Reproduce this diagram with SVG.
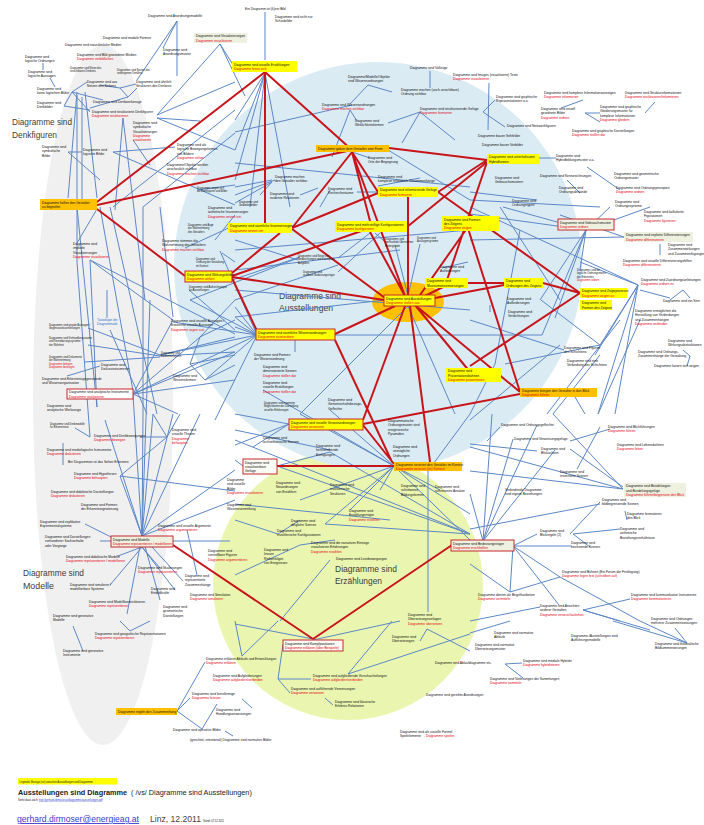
<svg xmlns="http://www.w3.org/2000/svg" width="704" height="825" viewBox="0 0 704 825">
<defs>
<style>
text{font-family:"Liberation Sans",Arial,sans-serif}
.t{font-size:3.3px;fill:#111}
.s{font-size:2.6px;fill:#111}
.r{fill:#e3000f}
.u{fill:#2f6fd0}
.big{font-size:9.5px;fill:#3c3c3c}
.bl path{stroke:#5d87c6;stroke-width:1;fill:none}
.rd path{stroke:#c8141b;stroke-width:2;fill:none}
.y{fill:#ffff00}
.o{fill:#ffc000}
.g{fill:#eef1e0}
.w{fill:#fafaf4}
.rb{stroke:#c8282d;stroke-width:1}
</style>
</defs>
<rect width="704" height="825" fill="#fff"/>
<g id="areas">
<ellipse cx="103" cy="395" rx="70" ry="350" fill="#f0f0f0"/>
<circle cx="348" cy="585" r="135" fill="#eaf6b0"/>
<ellipse cx="378" cy="266" rx="204" ry="204" fill="#daebf3"/>
<ellipse cx="408" cy="302" rx="36" ry="20" fill="#ffc000"/>
</g>
<g id="titles">
<text class="big" x="12" y="125" textLength="60" lengthAdjust="spacingAndGlyphs">Diagramme sind</text>
<text class="big" x="12" y="138" textLength="45" lengthAdjust="spacingAndGlyphs">Denkfiguren</text>
<text class="big" x="279" y="299" textLength="62" lengthAdjust="spacingAndGlyphs">Diagramme sind</text>
<text class="big" x="279" y="311" textLength="54" lengthAdjust="spacingAndGlyphs">Ausstellungen</text>
<text class="big" x="23" y="576" textLength="61" lengthAdjust="spacingAndGlyphs">Diagramme sind</text>
<text class="big" x="23" y="589" textLength="31" lengthAdjust="spacingAndGlyphs">Modelle</text>
<text class="big" x="335" y="572" textLength="62" lengthAdjust="spacingAndGlyphs">Diagramme sind</text>
<text class="big" x="335" y="584" textLength="47" lengthAdjust="spacingAndGlyphs">Erzählungen</text>
</g>
<g id="connectors">
<g class="bl">
<path d="M177 21L137 80M177 21L163 48M177 21L177 76M220 44L235 68M220 44L157 115M220 44L245 96M43 63L43 70M50 78L55 87M72 92L87 82M72 92L103 100M72 92L64 106M64 106L90 110M72 92L90 112M120 88L136 84M120 88L128 97M128 97L137 88M90 108L128 97M77 92L68 198M82 97L82 199M85 92L97 198M77 95L77 262M123 118L115 210M123 118L145 300M157 118L200 121M157 118L235 150M113 152L235 205M113 152L175 147M68 152L100 180M68 152L82 152M133 140L150 165M197 190L235 185M113 207L235 110M143 207L235 133M157 115L235 82M100 85L120 88"/>
<path d="M97 209L77 243M77 207L97 407M100 207L133 391M110 207L157 414M143 207L143 414M160 207L173 317M90 260L97 407M90 260L235 334M90 260L173 320M107 290L107 318M110 330L147 414M88 328L160 355M88 345L160 356M85 362L160 357M160 355L235 337M160 356L235 352M100 366L67 376M133 394L200 337M133 394L235 380M133 394L173 320M133 394L235 352M133 394L178 414M200 337L235 300M200 337L235 320M200 337L190 364M190 364L235 355M205 380L235 365M205 380L190 364M215 240L235 215M222 253L235 262M185 248L235 225M77 262L90 437M105 420L142 536"/>
<path d="M265 12L265 60M265 73L235 120M265 73L235 150M265 73L290 207M265 73L235 180M265 73L250 207M368 85L392 92M368 85L350 104M350 110L332 157M350 110L357 121M388 123L420 112M420 112L402 143M420 112L455 140M235 132L352 105M235 163L470 187M388 150L470 200M370 158L352 152M420 178L378 186M330 190L320 207M275 180L235 195M300 195L318 188M430 71L430 88M235 187L272 180M235 203L272 182M272 182L260 195M378 192L357 192"/>
<path d="M335 335L542 335M257 335L235 307M257 335L235 317M257 335L235 327M257 335L173 322M257 335L133 394M257 335L160 355M257 335L205 380M257 335L190 300M257 335L215 420M257 335L220 251M235 317L385 300M408 296L395 245M408 296L420 244M408 306L300 414M408 306L455 414M338 258L370 233M338 272L380 233M385 242L375 233M442 268L468 262M295 340L295 352M235 250L470 230M235 290L470 310M235 270L400 250M232 280L300 257M235 300L338 265M190 300L298 258M235 240L298 260M189 290L235 330M300 414L394 466M263 390L394 466M330 410L394 466"/>
<path d="M489 83L488 130M483 112L505 127M483 112L495 100M539 158L556 158M587 167L620 190M567 180L580 193M561 108L583 100M585 113L600 113M585 113L600 122M645 113L655 102M470 192L537 200M470 200L600 207"/>
<path d="M586 230L470 214M586 230L503 207M586 230L540 300M586 230L555 318M586 230L580 270M586 230L610 207M586 230L650 207M624 237L470 240M624 237L560 215M660 244L660 255M638 285L470 207M638 285L580 262M638 285L600 345M638 285L595 355M638 285L598 414M638 285L615 414M490 305L490 312M683 350L690 356M690 356L687 366M542 335L585 232M640 290L670 298M670 300L683 290M683 290L690 298M495 364L470 414M560 397L547 414M575 397L585 414M500 207L560 300M520 230L495 364M541 300L600 345M560 345L470 420M600 355L553 414M620 320L560 397M470 320L564 350M505 364L600 345M640 320L598 414"/>
<path d="M289 424L235 414M289 424L235 445M289 424L253 447M243 466L235 460M277 466L330 452M394 466L325 524M394 466L300 500M394 466L470 514M394 466L470 540M428 471L428 612M394 466L350 510M394 466L380 490M394 466L440 490M325 524L470 534M330 560L280 621M235 504L390 520M278 534L235 520M278 534L300 520M300 545L335 540M235 575L300 545M235 430L330 450M277 466L470 534M330 452L470 534M235 440L470 534M470 414L428 471"/>
<path d="M483 541L492 414M483 541L470 494M483 541L513 439M483 541L537 425M483 541L555 450M513 546L537 534M513 546L572 546M513 546L560 577M513 546L510 592M513 546L559 605M470 564L510 592M510 592L560 577M540 607L470 621M583 610L630 599M583 610L620 621M570 441L610 429M577 469L600 427M570 449L623 487M470 471L623 489M470 447L623 489M553 414L623 489M470 529L600 504M600 502L570 534M625 511L627 520M573 534L620 529M573 534L590 547M487 441L500 427M470 444L537 451M583 610L650 630M560 577L640 621"/>
<path d="M313 639L235 624M242 656L235 621M242 656L278 621M283 644L278 679M278 679L311 679M278 679L290 693M325 698L333 705M348 674L392 621M348 674L470 634M313 640L400 621M427 629L420 641M427 629L470 651M242 699L252 708M470 633L510 621M613 621L687 643M640 621L687 643M675 628L687 643M505 664L523 678M505 664L522 663"/>
<path d="M142 536L120 476M142 536L153 414M142 536L173 414M142 536L143 414M142 536L200 414M142 536L235 470M142 536L235 500M142 536L127 614M142 536L160 600M142 536L183 581M100 541L111 541M85 524L111 537M173 541L230 541M187 530L197 575M133 395L142 536M150 300L142 536M120 476L167 437M120 476L235 491M167 437L153 414M167 437L180 414M90 437L75 428M140 437L167 437M63 443L63 465M130 631L120 621M130 631L150 621M73 626L83 651M142 547L118 556M142 547L160 568M142 547L110 585M142 547L175 590"/>
<path d="M177 711L205 662M177 711L190 698M177 711L202 729M202 729L217 704M225 731L233 736"/>
</g>
<g class="rd">
<path d="M97 202L265 72M97 205L352 150M97 209L185 276M265 72L352 150M265 72L265 224M352 152L292 228M352 152L378 192M352 152L405 296M389 148L487 160M378 193L292 228M408 197L408 295M487 160L438 192M487 162L447 280M487 162L407 227M438 192L580 293M370 232L405 296M232 276L370 228M232 277L384 300M232 273L280 233M425 296L447 285M420 295L470 224M395 306L335 334M405 306L363 420M410 306L430 462M415 305L470 372M415 305L520 392M468 283L504 283M543 283L580 293M580 293L470 366M466 222L520 392M520 394L363 424M363 425L394 464M277 466L394 466M173 545L313 639M452 545L313 639M335 340L392 462M232 278L257 331M352 152L370 221M292 229L385 298M435 298L504 285"/>
</g>
</g>
<g id="n_A"><rect class="y" x="232" y="61" width="65" height="11"/><text class="t" x="234" y="65.5">Diagramme sind visuelle Erzählungen<tspan class="r" x="234" dy="4.3">Diagramme lesen sich</tspan></text></g>
<g id="n_B"><rect class="o" x="316" y="145" width="73" height="7"/><text class="t" x="318" y="149.8">Diagramme geben dem Gestalter eine Form</text></g>
<g id="n_C"><rect class="y" x="378" y="187" width="60" height="10"/><text class="t" x="380" y="191.3">Diagramme sind informierende Gefüge<tspan class="r" x="380" dy="4.3">Diagramme formieren</tspan></text></g>
<g id="n_D"><rect class="y" x="487" y="154" width="52" height="10"/><text class="t" x="489" y="158.3">Diagramme sind unterhaltsame<tspan x="489" dy="4.3">Hybridformen</tspan></text></g>
<g id="n_E"><rect class="y" x="228" y="223" width="64" height="10"/><text class="t" x="230" y="227.3">Diagramme sind räumliche Inszenierungen<tspan class="r" x="230" dy="4.3">Diagramme setzen um</tspan></text></g>
<g id="n_F"><rect class="y" x="335" y="221" width="72" height="11"/><text class="t" x="337" y="225.5">Diagramme sind mehrstellige Konfigurationen<tspan class="r" x="337" dy="4.3">Diagramme konfigurieren</tspan></text></g>
<g id="n_G"><rect class="y" x="442" y="216" width="57" height="15"/><text class="t" x="444" y="220.5">Diagramme sind Formen<tspan x="444" dy="4.3">des Zeigens</tspan><tspan class="r" x="444" dy="4.3">Diagramme zeigen</tspan></text></g>
<g id="n_H"><rect class="y" x="425" y="278" width="43" height="10"/><text class="t" x="427" y="282.3">Diagramme sind<tspan x="427" dy="4.3">Museumsinszenierungen</tspan></text></g>
<g id="n_I"><rect class="y rb" x="384" y="295" width="51" height="11"/><text class="t" x="386" y="299.5">Diagramme sind Ausstellungen<tspan class="r" x="386" dy="4.3">Diagramme stellen aus</tspan></text></g>
<g id="n_J"><rect class="y rb" x="256" y="329" width="79" height="11"/><text class="t" x="258" y="333.5">Diagramme sind räumliche Wissensordnungen<tspan class="r" x="258" dy="4.3">Diagramme raumordnen</tspan></text></g>
<g id="n_K"><rect class="y" x="446" y="368" width="55" height="14"/><text class="t" x="448" y="372.3">Diagramme sind<tspan x="448" dy="4.3">Präsentationsbühnen</tspan><tspan class="r" x="448" dy="4.3">Diagramme präsentieren</tspan></text></g>
<g id="n_L"><rect class="y" x="504" y="278" width="39" height="10"/><text class="t" x="506" y="282.3">Diagramme sind<tspan x="506" dy="4.3">Ordnungen des Zeigens</tspan></text></g>
<g id="n_M"><rect class="y" x="580" y="288" width="47" height="10"/><text class="t" x="582" y="292.3">Diagramme sind Zeigeprozesse<tspan class="r" x="582" dy="4.3">Diagramme zeigen an</tspan></text></g>
<g id="n_M2"><rect class="y" x="580" y="300" width="32" height="10"/><text class="t" x="582" y="304.3">Diagramme sind<tspan x="582" dy="4.3">Formen des Zeigens</tspan></text></g>
<g id="n_N"><rect class="o" x="520" y="388" width="77" height="9"/><text class="t" x="522" y="392">Diagramme bringen den Gestalter in den Blick<tspan class="r" x="522" dy="4">Diagramme führen</tspan></text></g>
<g id="n_O"><rect class="y rb" x="289" y="419" width="74" height="11"/><text class="t" x="291" y="423.5">Diagramme sind visuelle Verweisordnungen<tspan class="r" x="291" dy="4.3">Diagramme verweisen</tspan></text></g>
<g id="n_P"><rect class="o" x="394" y="462" width="68" height="9"/><text class="t" x="396" y="466">Diagramme verorten den Gestalter im Kontext<tspan class="r" x="396" dy="4">Diagramme verorten (im) Kontext</tspan></text></g>
<g id="n_Q"><rect class="o" x="40" y="199" width="57" height="11"/><text class="t" x="42" y="203.5">Diagramme helfen den Gestalter<tspan x="42" dy="4.3">zu begreifen</tspan></text></g>
<g id="n_R"><rect class="y rb" x="185" y="271" width="47" height="11"/><text class="t" x="187" y="275.5">Diagramme sind Wirkungsfelder<tspan class="r" x="187" dy="4.3">Diagramme wirken</tspan></text></g>
<g id="n_S"><rect class="w rb" x="243" y="459" width="34" height="15"/><text class="t" x="245" y="463.5">Diagramme sind<tspan x="245" dy="4.3">visualisierbare</tspan><tspan x="245" dy="4.3">Gefüge</tspan></text></g>
<g id="n_T"><rect class="g rb" x="111" y="536" width="62" height="11"/><text class="t" x="113" y="540.5">Diagramme sind Modelle<tspan class="r" x="113" dy="4.3">Diagramme repräsentieren / modellieren</tspan></text></g>
<g id="n_U"><rect class="w rb" x="283" y="640" width="60" height="11"/><text class="t" x="285" y="644.5">Diagramme sind Kampfpositionen<tspan class="r" x="285" dy="4.3">Diagramme erklären (über Beispiele)</tspan></text></g>
<g id="n_V"><rect class="g rb" x="451" y="540" width="63" height="11"/><text class="t" x="453" y="544.5">Diagramme sind Bedeutungsträger<tspan class="r" x="453" dy="4.3">Diagramme erschließen</tspan></text></g>
<g id="n_W"><rect class="g rb" x="558" y="219" width="56" height="11"/><text class="t" x="560" y="223.5">Diagramme sind Gebrauchsmuster<tspan class="r" x="560" dy="4.3">Diagramme ordnen</tspan></text></g>
<g id="n_X"><rect class="g" x="624" y="232" width="69" height="10"/><text class="t" x="626" y="236.3">Diagramme sind explizite Differenzierungen<tspan class="r" x="626" dy="4.3">Diagramme differenzieren</tspan></text></g>
<g id="n_Y"><rect class="g" x="624" y="483" width="62" height="14"/><text class="t" x="626" y="487.3">Diagramme sind Bündelungen<tspan x="626" dy="4.3">und Bündelungsgefüge</tspan><tspan class="r" x="626" dy="4.3">Diagramme führen/begrenzen den Blick</tspan></text></g>
<g id="n_Z"><rect class="g" x="194" y="33" width="53" height="10"/><text class="t" x="196" y="37.3">Diagramme sind Visualisierungen<tspan class="r" x="196" dy="4.3">Diagramme visualisieren</tspan></text></g>
<g id="n_AA"><rect fill="#fff" class="rb" x="67" y="389" width="66" height="10"/><text class="t" x="69" y="393.3">Diagramme sind analytische Instrumente<tspan class="r" x="69" dy="4.3">Diagramme analysieren</tspan></text></g>
<g id="n_AB"><rect class="o" x="116" y="708" width="61" height="7"/><text class="t" x="118" y="712.5">Diagramme regeln den Zusammenhang</text></g>
<g id="k1"><text class="t" x="148" y="17">Diagramme sind Anordnungsmodelle</text></g>
<g id="k2"><text class="t" x="103" y="39">Diagramme sind modale Formen</text></g>
<g id="k3"><text class="t" x="65" y="46">Diagramme sind naturähnliche Medien</text></g>
<g id="k4"><text class="t" x="77" y="56">Diagramme sind Bild gewordene Medien<tspan class="r" x="77" dy="4.3">Diagramme verbildlichen</tspan></text></g>
<g id="k5"><text class="t" x="163" y="51">Diagramme sind<tspan x="163" dy="4.3">Anordnungsmuster</tspan></text></g>
<g id="k6"><text class="t" x="25" y="58">Diagramme sind<tspan x="25" dy="4.3">logische Ordnungen</tspan></text></g>
<g id="k7"><text class="t" x="28" y="73">Diagramme sind<tspan x="28" dy="4.3">logische Aussagen</tspan></text></g>
<g id="k8"><text class="s" x="70" y="69">Diagramme sind Netze des<tspan x="70" dy="3.4">unsichtbaren Denkens</tspan></text></g>
<g id="k9"><text class="s" x="117" y="71">Diagramme sind Spuren des<tspan x="117" dy="3.4">verborgenen Denkens</tspan></text></g>
<g id="k10"><text class="t" x="87" y="83">Diagramme sind aus<tspan x="87" dy="4.3">Netzen des Sehens</tspan></text></g>
<g id="k11"><text class="t" x="136" y="83">Diagramme sind ähnlich<tspan x="136" dy="4.3">Strukturen des Denkens</tspan></text></g>
<g id="k12"><text class="t" x="37" y="90">Diagramme sind<tspan x="37" dy="4.3">keine logischen Bilder</tspan></text></g>
<g id="k13"><text class="t" x="37" y="104">Diagramme sind<tspan x="37" dy="4.3">Denkbilder</tspan></text></g>
<g id="k14"><text class="t" x="93" y="103">Diagramme sind Denkwerkzeuge</text></g>
<g id="k15"><text class="t" x="92" y="113">Diagramme sind strukturierte Denkfiguren<tspan class="r" x="92" dy="4.3">Diagramme strukturieren</tspan></text></g>
<g id="k16"><text class="t" x="133" y="124">Diagramme sind<tspan x="133" dy="4.3">symbolische</tspan><tspan x="133" dy="4.3">Visualisierungen</tspan><tspan class="r" x="133" dy="4.3">Diagramme</tspan><tspan class="r" x="133" dy="4.3">visualisieren</tspan></text></g>
<g id="k17"><text class="t" x="42" y="148">Diagramme sind<tspan x="42" dy="4.3">symbolische</tspan><tspan x="42" dy="4.3">Bilder</tspan></text></g>
<g id="k18"><text class="t" x="83" y="151">Diagramme sind<tspan x="83" dy="4.3">logische Bilder</tspan></text></g>
<g id="k19"><text class="t" x="177" y="146">Diagramme sind als<tspan x="177" dy="4.3">logische Bewegungsformen</tspan><tspan x="177" dy="4.3">von Bildern</tspan><tspan class="r" x="177" dy="4.3">Diagramme sehen</tspan></text></g>
<g id="k20"><text class="t" x="167" y="166">Diagramme/Objekte werden<tspan x="167" dy="4.3">anschaulich sichtbar</tspan><tspan class="r" x="167" dy="4.3">Diagramme machen sichtbar</tspan></text></g>
<g id="k21"><text class="s" x="197" y="189">Diagramme zeigen sich<tspan x="197" dy="3.4">als Denkfiguren und Bilder</tspan></text></g>
<g id="k183"><text class="t" x="208" y="209">Diagramme sind<tspan x="208" dy="4.3">ästhetische Inszenierungen</tspan><tspan class="r" x="208" dy="4.3">Diagramme setzen ein</tspan></text></g>
<g id="k22"><text class="t" x="245" y="10">Ein Diagramm ist (k)ein Bild</text></g>
<g id="k23"><text class="t" x="275" y="18">Diagramme sind nicht nur<tspan x="275" dy="4.3">Schaubilder</tspan></text></g>
<g id="k24"><text class="t" x="348" y="78">Diagramme/Modelle/Objekte<tspan x="348" dy="4.3">sind Wissensordnungen</tspan></text></g>
<g id="k25"><text class="t" x="410" y="69">Diagramme sind Vollzüge</text></g>
<g id="k26"><text class="t" x="401" y="91">Diagramme machen (auch unsichtbare)<tspan x="401" dy="4.3">Ordnung sichtbar</tspan></text></g>
<g id="k27"><text class="t" x="322" y="106">Diagramme sind Wissensordnungen<tspan class="r" x="322" dy="4.3">Diagramme machen sichtbar</tspan></text></g>
<g id="k28"><text class="t" x="355" y="122">Diagramme sind<tspan x="355" dy="4.3">Wirklichkeitsformen</tspan></text></g>
<g id="k29"><text class="t" x="420" y="110">Diagramme sind strukturierende Gefüge<tspan class="r" x="420" dy="4.3">Diagramme formieren</tspan></text></g>
<g id="k30"><text class="t" x="368" y="159">Diagramme sind<tspan x="368" dy="4.3">Orte der Begegnung</tspan></text></g>
<g id="k31"><text class="t" x="378" y="178">Diagramme sind<tspan x="378" dy="4.3">komplexe relationale Zusammenhänge</tspan></text></g>
<g id="k32"><text class="t" x="328" y="190">Diagramme sind<tspan x="328" dy="4.3">Rechercheräume</tspan></text></g>
<g id="k33"><text class="t" x="275" y="178">Diagramme machen<tspan x="275" dy="4.3">den Gestalter sichtbar</tspan></text></g>
<g id="k34"><text class="t" x="270" y="195">Diagramme sind<tspan x="270" dy="4.3">evidente Relationen</tspan></text></g>
<g id="k35"><text class="s" x="239" y="203">Diagramme sind<tspan x="239" dy="3.4">Gedankenbilder</tspan></text></g>
<g id="k36"><text class="t" x="453" y="76">Diagramme sind Images (visualisierte) Texte<tspan class="r" x="453" dy="4.3">Diagramme visualisieren</tspan></text></g>
<g id="k37"><text class="t" x="496" y="98">Diagramme sind graphische<tspan x="496" dy="4.3">Repräsentationen   u.a.</tspan></text></g>
<g id="k38"><text class="t" x="507" y="127">Diagramme sind Netzwerkfiguren</text></g>
<g id="k39"><text class="t" x="478" y="137">Diagramme bauen Sehfelder</text></g>
<g id="k40"><text class="t" x="482" y="146">Diagramme bauen Vorbilder</text></g>
<g id="k41"><text class="t" x="544" y="94">Diagramme sind komplexe Informationsanzeigen<tspan class="r" x="544" dy="4.3">Diagramme informieren</tspan></text></g>
<g id="k42"><text class="t" x="541" y="110">Diagramme sind visuell<tspan x="541" dy="4.3">geordnete Bilder</tspan><tspan class="r" x="541" dy="4.3">Diagramme ordnen</tspan></text></g>
<g id="k43"><text class="t" x="600" y="108">Diagramme sind graphische<tspan x="600" dy="4.3">Gliederungsmuster für</tspan><tspan x="600" dy="4.3">komplexe Informationen</tspan><tspan class="r" x="600" dy="4.3">Diagramme gliedern</tspan></text></g>
<g id="k44"><text class="t" x="625" y="94">Diagramme sind Strukturinformationen<tspan class="r" x="625" dy="4.3">Diagramme strukturieren/informieren</tspan></text></g>
<g id="k45"><text class="t" x="572" y="132">Diagramme sind graphische Darstellungen<tspan class="r" x="572" dy="4.3">Diagramme stellen dar</tspan></text></g>
<g id="k46"><text class="t" x="556" y="157">Diagramme sind<tspan x="556" dy="4.3">Hybridbildungsmuster        u.a.</tspan></text></g>
<g id="k47"><text class="t" x="540" y="177">Diagramme sind Kennzeichnungen</text></g>
<g id="k48"><text class="t" x="495" y="179">Diagramme sind<tspan x="495" dy="4.3">Gebrauchsmustern</tspan></text></g>
<g id="k49"><text class="t" x="614" y="175">Diagramme sind geometrische<tspan x="614" dy="4.3">Ordnungsmuster</tspan></text></g>
<g id="k50"><text class="t" x="559" y="189">Diagramme sind<tspan x="559" dy="4.3">Ordnungsabstände</tspan></text></g>
<g id="k51"><text class="t" x="616" y="189">Diagramme sind Ordnungsprinzipien<tspan class="r" x="616" dy="4.3">Diagramme ordnen</tspan></text></g>
<g id="k52"><text class="t" x="512" y="202">Diagramme sind<tspan x="512" dy="4.3">Ordnungstypen</tspan></text></g>
<g id="k53"><text class="t" x="615" y="203">Diagramme sind<tspan x="615" dy="4.3">Ordnungssysteme</tspan></text></g>
<g id="k55"><text class="t" x="644" y="213">Diagramme sind kalkulierte<tspan x="644" dy="4.3">Figurationen</tspan><tspan class="r" x="644" dy="4.3">Diagramme figurieren</tspan></text></g>
<g id="k58"><text class="t" x="668" y="246">Diagramme sind<tspan x="668" dy="4.3">Zusammenwirkungen</tspan><tspan x="668" dy="4.3">und Zusammenfügungen</tspan></text></g>
<g id="k59"><text class="t" x="623" y="262">Diagramme sind visuelle Differenzierungshilfen<tspan class="r" x="623" dy="4.3">Diagramme differenzieren</tspan></text></g>
<g id="k60"><text class="s" x="577" y="271">Diagramme sind die<tspan x="577" dy="3.4">logische Ordnungsmatrix</tspan><tspan x="577" dy="3.4">der Erkenntnis</tspan><tspan class="r" x="577" dy="3.4">Diagramme ordnen</tspan></text></g>
<g id="k61"><text class="t" x="641" y="281">Diagramme sind Zuordnungsanleitungen<tspan class="r" x="641" dy="4.3">Diagramme ordnen zu</tspan></text></g>
<g id="k62"><text class="t" x="663" y="302">Diagramme sind ein Sinn</text></g>
<g id="k63"><text class="t" x="635" y="312">Diagramme ermöglichen die<tspan x="635" dy="4.3">Herstellung von Verbindungen</tspan><tspan x="635" dy="4.3">und Zusammenhängen</tspan><tspan class="r" x="635" dy="4.3">Diagramme verbinden</tspan></text></g>
<g id="k64"><text class="t" x="507" y="300">Diagramme sind<tspan x="507" dy="4.3">Aufforderungen</tspan></text></g>
<g id="k65"><text class="t" x="508" y="313">Diagramme sind<tspan x="508" dy="4.3">Verdichtungen</tspan></text></g>
<g id="k66"><text class="t" x="564" y="349">Diagramme sind Figuren<tspan x="564" dy="4.3">des Schichtens</tspan></text></g>
<g id="k67"><text class="t" x="567" y="362">Diagramme sind eine<tspan x="567" dy="4.3">Verbindung des Schichtens</tspan></text></g>
<g id="k68"><text class="t" x="668" y="342">Diagramme sind<tspan x="668" dy="4.3">Wirkungsabstraktionen</tspan></text></g>
<g id="k69"><text class="t" x="638" y="353">Diagramme sind Ordnungs-<tspan x="638" dy="4.3">Zusammenhänge der Gestaltung</tspan></text></g>
<g id="k70"><text class="t" x="654" y="367">Diagramme lassen sich zeigen</text></g>
<g id="k71"><text class="s" x="385" y="240">Diagramme sind<tspan x="385" dy="3.4">wechselnde Übersichten</tspan><tspan x="385" dy="3.4">Hintergründe</tspan></text></g>
<g id="k72"><text class="s" x="417" y="239">Diagramme sind<tspan x="417" dy="3.4">Aussagensysteme</tspan></text></g>
<g id="k73"><text class="s" x="298" y="257">Diagramme sind Netze von<tspan x="298" dy="3.4">Beobachtungen und Konzepten</tspan><tspan x="298" dy="3.4">Aufgaben</tspan></text></g>
<g id="k74"><text class="s" x="303" y="273">Diagramme sind<tspan x="303" dy="3.4">sichtbare Bedeutungsträger</tspan></text></g>
<g id="k75"><text class="t" x="440" y="268">Diagramme sind<tspan x="440" dy="4.3">Aufstellungen</tspan></text></g>
<g id="k76"><text class="t" x="254" y="356">Diagramme sind Formen<tspan x="254" dy="4.3">der Wissensordnung</tspan></text></g>
<g id="k77"><text class="t" x="263" y="368">Diagramme sind<tspan x="263" dy="4.3">dimensionierte Szenen</tspan><tspan class="r" x="263" dy="4.3">Diagramme stellen dar</tspan></text></g>
<g id="k78"><text class="t" x="263" y="384">Diagramme sind<tspan x="263" dy="4.3">visuelle Erzählungen</tspan><tspan class="r" x="263" dy="4.3">Diagramme stellen dar</tspan></text></g>
<g id="k79"><text class="s" x="264" y="404">Diagramme sind erweiterte<tspan x="264" dy="3.4">Möglichkeiten der Darstellung</tspan><tspan x="264" dy="3.4">visueller Erfahrungen</tspan></text></g>
<g id="k80"><text class="t" x="328" y="401">Diagramme sind<tspan x="328" dy="4.3">Gemeinschaftsbezüge-</tspan><tspan x="328" dy="4.3">Geflechte</tspan></text></g>
<g id="k81"><text class="t" x="73" y="245">Diagramme sind<tspan x="73" dy="4.3">implizite</tspan><tspan x="73" dy="4.3">Visualisierungen</tspan><tspan class="r" x="73" dy="4.3">Diagramme visualisieren</tspan></text></g>
<g id="k82"><text class="t" x="162" y="242">Diagramme stimmen die<tspan x="162" dy="4.3">Wahrnehmung des Gestalters</tspan><tspan class="r" x="162" dy="4.3">Diagramme machen sichtbar</tspan></text></g>
<g id="k83"><text class="s" x="188" y="226">Diagramme sind Auge<tspan x="188" dy="3.4">der Wahrnehmung</tspan><tspan x="188" dy="3.4">des Gestalters</tspan></text></g>
<g id="k84"><text class="s" x="196" y="260">Diagramme sind<tspan x="196" dy="3.4">Ordnung der Gestaltung</tspan><tspan x="196" dy="3.4">im Kontext</tspan></text></g>
<g id="k85"><text class="s" x="189" y="288">Diagramme sind Aufzeichnungen<tspan x="189" dy="3.4">für Ausstellungen</tspan></text></g>
<g id="k86"><text class="t u" x="97" y="321">Tautologie der<tspan x="97" dy="4.3">Diagrammatik</tspan></text></g>
<g id="k87"><text class="t" x="171" y="322">Diagramme sind visuelle Aussagen /<tspan x="171" dy="4.3">Erweiterte visuelle Aussagen</tspan><tspan class="r" x="171" dy="4.3">Diagramme sagen aus</tspan></text></g>
<g id="k88"><text class="s" x="49" y="326">Diagramme sind gerade Aussagen /<tspan x="49" dy="3.4">Gegenstandsvorstellungen</tspan></text></g>
<g id="k89"><text class="s" x="49" y="339">Diagramme sind Verhandlungsräume<tspan x="49" dy="3.4">und Vereinbarungssysteme</tspan><tspan x="49" dy="3.4">der Wahrheit</tspan></text></g>
<g id="k90"><text class="s" x="49" y="358">Diagramme sind Dokumente<tspan x="49" dy="3.4">der Wahrnehmung</tspan><tspan class="r" x="49" dy="3.4">Diagramme belegen</tspan><tspan class="r" x="49" dy="3.4">Diagramme bezeugen</tspan></text></g>
<g id="k91"><text class="t" x="101" y="366">Diagramme sind<tspan x="101" dy="4.3">Diskursinstrumente</tspan></text></g>
<g id="k92"><text class="t" x="42" y="380">Diagramme sind Erkenntnisgegenstände<tspan x="42" dy="4.3">und Wissensorganisation</tspan></text></g>
<g id="k93"><text class="s" x="161" y="354">Diagramme sind<tspan x="161" dy="3.4">Erkenntnisfiguren</tspan></text></g>
<g id="k94"><text class="t" x="173" y="377">Diagramme sind<tspan x="173" dy="4.3">Wissensformen</tspan></text></g>
<g id="k96"><text class="t" x="47" y="407">Diagramme sind<tspan x="47" dy="4.3">analytische Werkzeuge</tspan></text></g>
<g id="k97"><text class="s" x="50" y="425">Diagramme sind Denkmodelle<tspan x="50" dy="3.4">für Erkenntnisse</tspan></text></g>
<g id="k98"><text class="t" x="94" y="437">Diagramme sind Denkbewegungen<tspan class="r" x="94" dy="4.3">Diagramme bewegen</tspan></text></g>
<g id="k99"><text class="t" x="172" y="431">Diagramme sind<tspan x="172" dy="4.3">visuelle Thesen</tspan><tspan class="r" x="172" dy="4.3">Diagramme</tspan><tspan class="r" x="172" dy="4.3">behaupten</tspan></text></g>
<g id="k100"><text class="t" x="47" y="451">Diagramme sind mediologische Instrumente<tspan class="r" x="47" dy="4.3">Diagramme diskutieren</tspan></text></g>
<g id="k101"><text class="t" x="68" y="463">Bei Diagrammen ist das Sehen Erkennen</text></g>
<g id="k102"><text class="t" x="74" y="475">Diagramme sind Hypothesen<tspan class="r" x="74" dy="4.3">Diagramme behaupten</tspan></text></g>
<g id="k103"><text class="t" x="51" y="493">Diagramme sind didaktische Darstellungen<tspan class="r" x="51" dy="4.3">Diagramme diskutieren</tspan></text></g>
<g id="k104"><text class="t" x="81" y="506">Diagramme sind Formen<tspan x="81" dy="4.3">der Erkenntnisgewinnung</tspan></text></g>
<g id="k105"><text class="t" x="40" y="523">Diagramme sind explikative<tspan x="40" dy="4.3">Experimentalsysteme</tspan></text></g>
<g id="k106"><text class="t" x="45" y="538">Diagramme sind Darstellungen<tspan x="45" dy="4.3">vorhandener Sachverhalte</tspan><tspan x="45" dy="4.3">oder Vorgänge</tspan></text></g>
<g id="k108"><text class="t" x="158" y="527">Diagramme sind visuelle Argumente<tspan class="r" x="158" dy="4.3">Diagramme argumentieren</tspan></text></g>
<g id="k109"><text class="t" x="66" y="558">Diagramme sind didaktische Modelle<tspan class="r" x="66" dy="4.3">Diagramme repräsentieren / modellieren</tspan></text></g>
<g id="k110"><text class="t" x="138" y="569">Diagramme sind Skalierungen<tspan class="r" x="138" dy="4.3">Diagramme repräsentieren</tspan></text></g>
<g id="k111"><text class="t" x="70" y="586">Diagramme sind simulierte /<tspan x="70" dy="4.3">modellierbare Systeme</tspan></text></g>
<g id="k112"><text class="t" x="151" y="590">Diagramme sind<tspan x="151" dy="4.3">Einbildkräfte</tspan></text></g>
<g id="k113"><text class="t" x="89" y="603">Diagramme sind Modellkonstruktionen<tspan class="r" x="89" dy="4.3">Diagramme repräsentieren</tspan></text></g>
<g id="k114"><text class="t" x="185" y="577">Diagramme sind<tspan x="185" dy="4.3">repräsentierte</tspan><tspan x="185" dy="4.3">Zusammenhänge</tspan></text></g>
<g id="k115"><text class="t" x="190" y="596">Diagramme sind Simulation<tspan class="r" x="190" dy="4.3">Diagramme simulieren</tspan></text></g>
<g id="k116"><text class="t" x="163" y="608">Diagramme sind<tspan x="163" dy="4.3">geometrische</tspan><tspan x="163" dy="4.3">Darstellungen</tspan></text></g>
<g id="k117"><text class="t" x="53" y="617">Diagramme sind generative<tspan x="53" dy="4.3">Modelle</tspan></text></g>
<g id="k118"><text class="t" x="208" y="552">Diagramme sind<tspan x="208" dy="4.3">vorstellbare Figuren</tspan><tspan class="r" x="208" dy="4.3">Diagramme argumentieren</tspan></text></g>
<g id="k119"><text class="t" x="227" y="481">Diagramme<tspan x="227" dy="4.3">sind visuelle</tspan><tspan x="227" dy="4.3">Bilder</tspan><tspan class="r" x="227" dy="4.3">Diagramme visualisieren</tspan></text></g>
<g id="k120"><text class="t" x="227" y="506">Diagramme sind<tspan x="227" dy="4.3">Wissensvermittlung</tspan></text></g>
<g id="k121"><text class="t" x="263" y="439">Diagramme sind<tspan x="263" dy="4.3">architektonische Szenen</tspan></text></g>
<g id="k122"><text class="t" x="316" y="447">Diagramme sind<tspan x="316" dy="4.3">hervorhebende</tspan><tspan x="316" dy="4.3">Einfügungen</tspan></text></g>
<g id="k124"><text class="t" x="388" y="422">Diagrammatische<tspan x="388" dy="4.3">Ordnungsmuster sind</tspan><tspan x="388" dy="4.3">ereignisreiche</tspan><tspan x="388" dy="4.3">Pyramiden</tspan></text></g>
<g id="k125"><text class="t" x="393" y="448">Diagramme sind<tspan x="393" dy="4.3">unmögliche</tspan><tspan x="393" dy="4.3">Ordnungen</tspan></text></g>
<g id="k126"><text class="t" x="276" y="484">Diagramme sind<tspan x="276" dy="4.3">Neuordnungen</tspan><tspan x="276" dy="4.3">von Erzählern</tspan></text></g>
<g id="k127"><text class="t" x="330" y="486">Diagramme sind<tspan x="330" dy="4.3">erzählerische</tspan><tspan x="330" dy="4.3">Strukturen</tspan></text></g>
<g id="k128"><text class="t" x="401" y="487">Diagramme sind<tspan x="401" dy="4.3">schrittweise</tspan><tspan x="401" dy="4.3">Bildungsformen</tspan></text></g>
<g id="k129"><text class="t" x="435" y="488">Diagramme sind<tspan x="435" dy="4.3">schrittweise Ansätze</tspan></text></g>
<g id="k130"><text class="t" x="349" y="512">Diagramme sind<tspan x="349" dy="4.3">Erzählungsträger</tspan><tspan class="r" x="349" dy="4.3">Diagramme erzählen</tspan></text></g>
<g id="k131"><text class="t" x="291" y="522">Diagramme sind<tspan x="291" dy="4.3">dingliche Szenen</tspan></text></g>
<g id="k132"><text class="t" x="277" y="532">Diagramme sind<tspan x="277" dy="4.3">erzählerische Konfigurationen</tspan></text></g>
<g id="k133"><text class="t" x="311" y="544">Diagramme sind die narrativen Einträge<tspan x="311" dy="4.3">visualisieren Erfahrungen</tspan><tspan class="r" x="311" dy="4.3">Diagramme erzählen</tspan></text></g>
<g id="k134"><text class="t" x="264" y="551">Diagramme sind<tspan x="264" dy="4.3">lineare</tspan><tspan x="264" dy="4.3">Reihenfolgen</tspan><tspan x="264" dy="4.3">von Ereignissen</tspan></text></g>
<g id="k135"><text class="t" x="336" y="560">Diagramme sind Lesebewegungen</text></g>
<g id="k136"><text class="t" x="408" y="616">Diagramme sind<tspan x="408" dy="4.3">Übersetzungsvorlagen</tspan><tspan class="r" x="408" dy="4.3">Diagramme übersetzen</tspan></text></g>
<g id="k137"><text class="t" x="501" y="426">Diagramme sind Ordnungsgeflechte</text></g>
<g id="k138"><text class="t" x="514" y="440">Diagramme sind Verweisungsgefüge</text></g>
<g id="k139"><text class="t" x="541" y="450">Diagramme sind<tspan x="541" dy="4.3">Blickachsen</tspan></text></g>
<g id="k140"><text class="t" x="608" y="428">Diagramme sind Blickführungen<tspan class="r" x="608" dy="4.3">Diagramme führen</tspan></text></g>
<g id="k141"><text class="t" x="617" y="446">Diagramme sind Lebensbahnen<tspan class="r" x="617" dy="4.3">Diagramme leiten</tspan></text></g>
<g id="k142"><text class="t" x="560" y="473">Diagramme sind<tspan x="560" dy="4.3">inszenierte Szenen</tspan></text></g>
<g id="k144"><text class="t" x="505" y="491">Verbindende Diagramme<tspan x="505" dy="4.3">sind eigene Beziehungen</tspan></text></g>
<g id="k145"><text class="t" x="602" y="501">Diagramme sind<tspan x="602" dy="4.3">bildbegrenzende Szenen</tspan></text></g>
<g id="k146"><text class="t" x="627" y="515">Diagramme formatieren<tspan x="627" dy="4.3">den Blick</tspan></text></g>
<g id="k147"><text class="t" x="540" y="532">Diagramme sind<tspan x="540" dy="4.3">Blickregeln (2)</tspan></text></g>
<g id="k148"><text class="t" x="620" y="530">Diagramme sind<tspan x="620" dy="4.3">ästhetische</tspan><tspan x="620" dy="4.3">Beziehungsverhältnisse</tspan></text></g>
<g id="k149"><text class="t" x="571" y="544">Diagramme sind<tspan x="571" dy="4.3">zeichnende Szenen</tspan></text></g>
<g id="k151"><text class="t" x="562" y="573">Diagramme sind Bühnen  (Ein Forum der Festlegung)<tspan class="r" x="562" dy="4.3">Diagramme legen fest (schreiben auf)</tspan></text></g>
<g id="k152"><text class="t" x="478" y="596">Diagramme dienen als Begriffsarbeiten<tspan class="r" x="478" dy="4.3">Diagramme vermitteln</tspan></text></g>
<g id="k153"><text class="t" x="631" y="596">Diagramme sind kommunikative Instrumente<tspan class="r" x="631" dy="4.3">Diagramme kommunizieren</tspan></text></g>
<g id="k154"><text class="t" x="540" y="607">Diagramme sind Ansichten<tspan x="540" dy="4.3">anderer Gestalten</tspan><tspan class="r" x="540" dy="4.3">Diagramme veranschaulichen</tspan></text></g>
<g id="k155"><text class="t" x="651" y="620">Diagramme sind Ordnungen<tspan x="651" dy="4.3">mehrerer Zusammensetzungen</tspan></text></g>
<g id="k157"><text class="t" x="392" y="638">Diagramme sind<tspan x="392" dy="4.3">Übersetzungen</tspan></text></g>
<g id="k158"><text class="t" x="435" y="664">Diagramme sind Ablaufdiagramme etc.</text></g>
<g id="k159"><text class="t" x="206" y="660">Diagramme erklären Abläufe und Entwicklungen<tspan class="r" x="206" dy="4.3">Diagramme erklären</tspan></text></g>
<g id="k160"><text class="t" x="213" y="677">Diagramme sind Aufgliederungen<tspan class="r" x="213" dy="4.3">Diagramme aufgliedern/verbinden</tspan></text></g>
<g id="k161"><text class="t" x="313" y="677">Diagramme sind aufgliedernde Verschachtelungen<tspan class="r" x="313" dy="4.3">Diagramme aufgliedern/verbinden</tspan></text></g>
<g id="k162"><text class="t" x="192" y="695">Diagramme sind kreisförmige<tspan class="r" x="192" dy="4.3">Diagramme kreisen</tspan></text></g>
<g id="k163"><text class="t" x="291" y="690">Diagramme sind aufführende Verweisungen<tspan class="r" x="291" dy="4.3">Diagramme verweisen</tspan></text></g>
<g id="k164"><text class="t" x="216" y="711">Diagramme sind<tspan x="216" dy="4.3">Handlungsanweisungen</tspan></text></g>
<g id="k165"><text class="t" x="335" y="703">Diagramme sind klassische<tspan x="335" dy="4.3">Erlebnis-Relationen</tspan></text></g>
<g id="k166"><text class="t" x="426" y="696">Diagramme sind gereihte Anordnungen</text></g>
<g id="k167"><text class="t" x="400" y="733">Diagramme sind als visuelle Formel<tspan x="400" dy="4.3">Spielelemente  → </tspan><tspan class="r">Diagramme spielen</tspan></text></g>
<g id="k168"><text class="t" x="173" y="731">Diagramme sind operative Bilder</text></g>
<g id="k169"><text class="t" x="190" y="741">(gerichtet, intentional)  Diagramme sind normative Bilder</text></g>
<g id="k173"><text class="t" x="95" y="635">Diagramme sind geografische Repräsentationen<tspan class="r" x="95" dy="4.3">Diagramme repräsentieren</tspan></text></g>
<g id="k174"><text class="t" x="63" y="652">Diagramme sind generative<tspan x="63" dy="4.3">Instrumente</tspan></text></g>
<g id="k176"><text class="t" x="494" y="634">Diagramme sind normative<tspan x="494" dy="4.3">Abläufe</tspan></text></g>
<g id="k177"><text class="t" x="475" y="646">Diagramme sind normative<tspan x="475" dy="4.3">Übersetzungsmuster</tspan></text></g>
<g id="k178"><text class="t" x="571" y="637">Diagramme /Ausstellungen sind<tspan x="571" dy="4.3">Aufführungsmodelle</tspan></text></g>
<g id="k179"><text class="t" x="655" y="645">Diagramme sind theatralische<tspan x="655" dy="4.3">Bildkommentierungen</tspan></text></g>
<g id="k180"><text class="t" x="523" y="662">Diagramme sind mediale Hybride<tspan class="r" x="523" dy="4.3">Diagramme hybridisieren</tspan></text></g>
<g id="k181"><text class="t" x="490" y="680">Diagramme sind Vorlesungen der Sammlungen<tspan class="r" x="490" dy="4.3">Diagramme sammeln</tspan></text></g>
<g id="footer">
<rect x="18" y="778" width="99" height="6.5" fill="#ffff00"/>
<text class="s" x="19.5" y="782.5">Legende: Bezüge (rot) zwischen Ausstellungen und Diagramme</text>
<text x="18" y="795" font-size="7.3" font-weight="bold" fill="#222">Ausstellungen sind Diagramme</text>
<text x="131" y="795" font-size="7.3" fill="#222">( /vs/ Diagramme sind Ausstellungen)</text>
<text class="s" x="18" y="800.5">Siehe dazu auch: <tspan fill="#2f3fd0" text-decoration="underline">http://gerhard.dirmoser.at/diagramme/ausstellungen.pdf</tspan></text>
<text x="17" y="822" font-size="9" fill="#3a3ad0" text-decoration="underline" textLength="122" lengthAdjust="spacingAndGlyphs">gerhard.dirmoser@energieag.at</text>
<text x="150" y="822" font-size="9" fill="#444" textLength="51" lengthAdjust="spacingAndGlyphs">Linz, 12.2011</text>
<text class="s" x="203" y="822">Stand: 07.12.2011</text>
</g>
</svg>
